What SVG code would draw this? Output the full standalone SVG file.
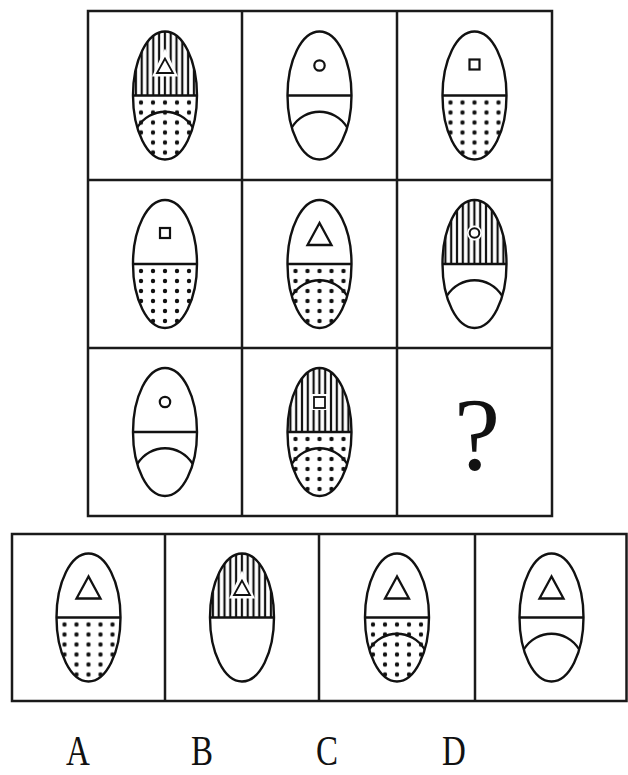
<svg xmlns="http://www.w3.org/2000/svg" width="628" height="775" viewBox="0 0 628 775">
<style>
.frame{fill:none;stroke:#1a1a1a;stroke-width:2.5}
.ol{fill:none;stroke:#111;stroke-width:2.4}
.dv{stroke:#111;stroke-width:2.6}
.h{fill:url(#hatch)}
.d{fill:url(#dots)}
.halo{fill:#fff}
.lbl{font-family:"Liberation Serif","Times New Roman",serif;font-size:33px;fill:#111}
.q{font-family:"Liberation Serif","Times New Roman",serif;font-size:104px;fill:#111}
</style>
<defs>
<pattern id="dots" patternUnits="userSpaceOnUse" x="-6" y="2" width="12" height="10"><circle cx="6" cy="5" r="2.2" fill="#111"/></pattern>
<pattern id="hatch" patternUnits="userSpaceOnUse" x="-3" y="0" width="5.8" height="10"><rect x="1.8" y="0" width="2.2" height="10" fill="#111"/></pattern>
<path id="top" d="M-32 0 A32 64 0 0 1 32 0 Z"/>
<path id="bot" d="M-32 0 A32 64 0 0 0 32 0 Z"/>
<path id="arc" d="M-27.7 32 C-15 11 15 11 27.7 32" fill="none" stroke="#111" stroke-width="2.3"/>
<g id="shell"><line class="dv" x1="-32" y1="0" x2="32" y2="0"/><ellipse class="ol" cx="0" cy="0" rx="32" ry="64"/></g>
<polygon id="tri" points="0,-41 -12,-19 12,-19" fill="#fff" stroke="#111" stroke-width="2.3" stroke-linejoin="miter"/>
<g id="tris"><polygon class="halo" points="0,-47 -13,-19 13,-19"/><polygon points="0,-37 -8,-22.5 8,-22.5" fill="#fff" stroke="#111" stroke-width="1.8"/></g>
<circle id="circ" cx="0" cy="-30" r="5.2" fill="#fff" stroke="#111" stroke-width="2.2"/>
<rect id="sq" x="-5" y="-36" width="10" height="10" fill="#fff" stroke="#111" stroke-width="2.2"/>
</defs>

<g id="connectors"></g>

<g id="grid">
<rect class="frame" x="88" y="11" width="464" height="505"/>
<line class="frame" x1="242" y1="11" x2="242" y2="516"/>
<line class="frame" x1="397" y1="11" x2="397" y2="516"/>
<line class="frame" x1="88" y1="180" x2="552" y2="180"/>
<line class="frame" x1="88" y1="348" x2="552" y2="348"/>
</g>

<g id="cell-r1c1" transform="translate(165,95.5)">
<use href="#top" class="h"/><use href="#bot" class="d"/><use href="#arc"/><use href="#shell"/>
<use href="#tris"/>
</g>
<g id="cell-r1c2" transform="translate(319.5,95.5)">
<use href="#arc"/><use href="#shell"/><use href="#circ"/>
</g>
<g id="cell-r1c3" transform="translate(474.5,95.5)">
<use href="#bot" class="d"/><use href="#shell"/><use href="#sq"/>
</g>
<g id="cell-r2c1" transform="translate(165,264)">
<use href="#bot" class="d"/><use href="#shell"/><use href="#sq"/>
</g>
<g id="cell-r2c2" transform="translate(319.5,264)">
<use href="#bot" class="d"/><use href="#arc"/><use href="#shell"/><use href="#tri"/>
</g>
<g id="cell-r2c3" transform="translate(474.5,264)">
<use href="#top" class="h"/><use href="#arc"/><use href="#shell"/>
<circle class="halo" cx="0" cy="-31" r="7.5"/><circle cx="0" cy="-31" r="4.8" fill="#fff" stroke="#111" stroke-width="2"/>
</g>
<g id="cell-r3c1" transform="translate(165,432)">
<use href="#arc"/><use href="#shell"/><use href="#circ"/>
</g>
<g id="cell-r3c2" transform="translate(319.5,432)">
<use href="#top" class="h"/><use href="#bot" class="d"/><use href="#arc"/><use href="#shell"/>
<rect class="halo" x="-8" y="-38" width="16" height="16"/><rect x="-5.5" y="-35" width="11" height="11" fill="#fff" stroke="#111" stroke-width="1.8"/>
</g>
<g id="cell-r3c3">
<text class="q" x="477" y="470" text-anchor="middle">?</text>
</g>

<g id="options">
<rect class="frame" x="12" y="534" width="614.5" height="167"/>
<line class="frame" x1="165" y1="534" x2="165" y2="701"/>
<line class="frame" x1="319" y1="534" x2="319" y2="701"/>
<line class="frame" x1="475" y1="534" x2="475" y2="701"/>
</g>

<g id="option-A" transform="translate(88.5,617.5)">
<use href="#bot" class="d"/><use href="#shell"/><use href="#tri"/>
</g>
<g id="option-B" transform="translate(242,617.5)">
<use href="#top" class="h"/><use href="#shell"/><use href="#tris"/>
</g>
<g id="option-C" transform="translate(397,617.5)">
<use href="#bot" class="d"/><use href="#arc"/><use href="#shell"/><use href="#tri"/>
</g>
<g id="option-D" transform="translate(551.5,617.5)">
<use href="#arc"/><use href="#shell"/><use href="#tri"/>
</g>

<g id="labels">
<text class="lbl" text-anchor="middle" transform="translate(78,765) scale(1,1.3)">A</text>
<text class="lbl" text-anchor="middle" transform="translate(202,765) scale(1,1.3)">B</text>
<text class="lbl" text-anchor="middle" transform="translate(327,765) scale(1,1.3)">C</text>
<text class="lbl" text-anchor="middle" transform="translate(454,765) scale(1,1.3)">D</text>
</g>
</svg>
